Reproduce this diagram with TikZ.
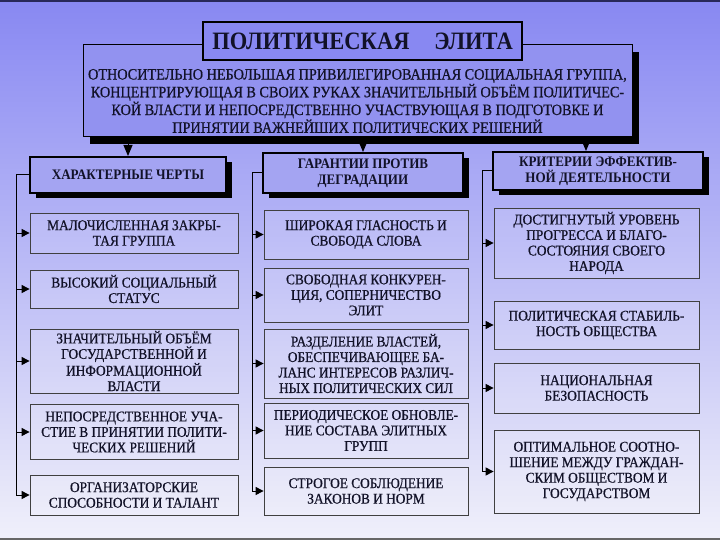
\documentclass[tikz,border=0pt]{standalone}
\usepackage{fontspec}
\setmainfont{Liberation Serif}[FakeStretch=0.9,UprightFeatures={FakeBold=0.7}]
\usetikzlibrary{arrows.meta,shadows}
\definecolor{bgtop}{RGB}{136,136,242}
\definecolor{bgmid}{RGB}{182,182,244}
\definecolor{bgbot}{RGB}{240,240,250}
\definecolor{ink}{RGB}{18,18,40}
\begin{document}
\begin{tikzpicture}[x=1pt,y=-1pt,
  item/.style = {rectangle,draw=black!75,line width=0.8pt,fill=white,fill opacity=0.12,text opacity=1,text=ink,align=center,inner sep=1pt,font=\fontsize{14.8}{15.5}\selectfont},
  head/.style = {rectangle,draw=black,line width=2pt,fill={rgb,255:red,164;green,164;blue,242},text=ink,align=center,inner sep=1pt,
                 drop shadow={shadow xshift=6pt,shadow yshift=-5pt,opacity=1,fill=black},font=\bfseries\fontsize{14.5}{15.5}\selectfont},
  rail/.style = {line width=1pt,black},
  link/.style = {line width=1pt,black,-{Triangle[length=8pt,width=8pt]}},
  down/.style = {line width=1pt,black,-{Triangle[length=11pt,width=9pt]}}]
\useasboundingbox (0,0) rectangle (720,540);
\shade[top color=bgtop,middle color=bgmid,bottom color=bgbot] (0,0) rectangle (720,540);
\draw[line width=2pt,color={rgb,255:red,40;green,40;blue,90}] (0,1) -- (720,1);
\draw[line width=1.5pt,black!60] (0,539) -- (720,539);

\node[rectangle,draw=black,line width=1pt,fill={rgb,255:red,146;green,146;blue,240},minimum width=549pt,minimum height=92pt,
      drop shadow={shadow xshift=7pt,shadow yshift=-7pt,opacity=1,fill=black},
      label={[yshift=-10pt,text=ink,align=center,inner sep=0pt,font=\fontsize{15.8}{16.5}\selectfont]center:%
   ОТНОСИТЕЛЬНО НЕБОЛЬШАЯ ПРИВИЛЕГИРОВАННАЯ СОЦИАЛЬНАЯ ГРУППА,\\
   КОНЦЕНТРИРУЮЩАЯ В СВОИХ РУКАХ ЗНАЧИТЕЛЬНЫЙ ОБЪЁМ ПОЛИТИЧЕС-\\
   КОЙ ВЛАСТИ И НЕПОСРЕДСТВЕННО УЧАСТВУЮЩАЯ В ПОДГОТОВКЕ И\\
   ПРИНЯТИИ ВАЖНЕЙШИХ ПОЛИТИЧЕСКИХ РЕШЕНИЙ}] (def) at (357.5,91) {};
\node[rectangle,draw=black,line width=2.5pt,fill=bgtop,minimum width=319pt,minimum height=38pt,text=ink,
      font=\bfseries\fontsize{25}{26}\selectfont] (title) at (362.5,41) {ПОЛИТИЧЕСКАЯ\quad ЭЛИТА};

\node[head,minimum width=196pt,minimum height=36pt] (hl) at (128,175) {ХАРАКТЕРНЫЕ ЧЕРТЫ};
\node[head,minimum width=200pt,minimum height=40pt] (hm) at (363,173) {ГАРАНТИИ ПРОТИВ\\ДЕГРАДАЦИИ};
\node[head,minimum width=210pt,minimum height=38pt] (hr) at (598,171) {КРИТЕРИИ ЭФФЕКТИВ-\\НОЙ ДЕЯТЕЛЬНОСТИ};
\coordinate (hrtop) at ([xshift=-12pt]hr.north);

\draw[down] (def.south -| hl.north) -- (hl.north);
\draw[down] (def.south -| hm.north) -- (hm.north);
\draw[down] (def.south -| hrtop) -- (hrtop);

\foreach \y/\h/\t [count=\j] in {233/40/{МАЛОЧИСЛЕННАЯ ЗАКРЫ-\\ТАЯ ГРУППА},
    289/38/{ВЫСОКИЙ СОЦИАЛЬНЫЙ\\СТАТУС},
    361/64/{ЗНАЧИТЕЛЬНЫЙ ОБЪЁМ\\ГОСУДАРСТВЕННОЙ И\\ИНФОРМАЦИОННОЙ\\ВЛАСТИ},
    432/55/{НЕПОСРЕДСТВЕННОЕ УЧА-\\СТИЕ В ПРИНЯТИИ ПОЛИТИ-\\ЧЕСКИХ РЕШЕНИЙ},
    495/40/{ОРГАНИЗАТОРСКИЕ\\СПОСОБНОСТИ И ТАЛАНТ}}
    \node[item,minimum width=208pt,minimum height=\h pt] (l\j) at (134,\y) {\t};
\foreach \y/\h/\t [count=\j] in {234.5/49/{ШИРОКАЯ ГЛАСНОСТЬ И\\СВОБОДА СЛОВА},
    295/54/{СВОБОДНАЯ КОНКУРЕН-\\ЦИЯ, СОПЕРНИЧЕСТВО\\ЭЛИТ},
    363.5/69/{РАЗДЕЛЕНИЕ ВЛАСТЕЙ,\\ОБЕСПЕЧИВАЮЩЕЕ БА-\\ЛАНС ИНТЕРЕСОВ РАЗЛИЧ-\\НЫХ ПОЛИТИЧЕСКИХ СИЛ},
    430.5/55/{ПЕРИОДИЧЕСКОЕ ОБНОВЛЕ-\\НИЕ СОСТАВА ЭЛИТНЫХ\\ГРУПП},
    491/48/{СТРОГОЕ СОБЛЮДЕНИЕ\\ЗАКОНОВ И НОРМ}}
    \node[item,minimum width=204pt,minimum height=\h pt] (m\j) at (366,\y) {\t};
\foreach \y/\h/\t [count=\j] in {243/70/{ДОСТИГНУТЫЙ УРОВЕНЬ\\ПРОГРЕССА И БЛАГО-\\СОСТОЯНИЯ СВОЕГО\\НАРОДА},
    325/48/{ПОЛИТИЧЕСКАЯ СТАБИЛЬ-\\НОСТЬ ОБЩЕСТВА},
    388/50/{НАЦИОНАЛЬНАЯ\\БЕЗОПАСНОСТЬ},
    471.5/83/{ОПТИМАЛЬНОЕ СООТНО-\\ШЕНИЕ МЕЖДУ ГРАЖДАН-\\СКИМ ОБЩЕСТВОМ И\\ГОСУДАРСТВОМ}}
    \node[item,minimum width=205pt,minimum height=\h pt] (r\j) at (596.5,\y) {\t};

\coordinate (lrail) at (16,175);
\coordinate (mrail) at (252,173);
\coordinate (rrail) at (482,171);
\draw[rail] (hl.west) -- (lrail) -- (lrail |- l5.west);
\draw[rail] (hm.west) -- (mrail) -- (mrail |- m5.west);
\draw[rail] (hr.west) -- (rrail) -- (rrail |- r4.west);
\foreach \j in {1,...,5}
    \draw[link] (lrail |- l\j.west) -- (l\j.west);
\foreach \j in {1,...,5}
    \draw[link] (mrail |- m\j.west) -- (m\j.west);
\foreach \j in {1,...,4}
    \draw[link] (rrail |- r\j.west) -- (r\j.west);
\end{tikzpicture}
\end{document}
